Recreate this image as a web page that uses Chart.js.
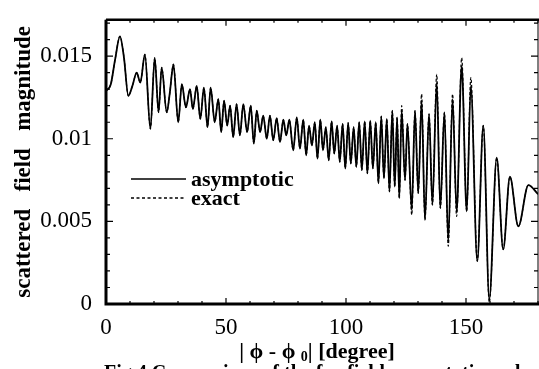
<!DOCTYPE html>
<html>
<head>
<meta charset="utf-8">
<script src="https://cdn.jsdelivr.net/npm/chart.js@4.4.1/dist/chart.umd.min.js"></script>
<style>
  html, body { margin: 0; padding: 0; background: #fff; }
  #wrap { width: 539px; height: 369px; position: relative; }
</style>
</head>
<body>
<div id="wrap"><canvas id="chart"></canvas></div>
<script>
// angle |phi - phi0| in degrees, at the peaks and dips
const degrees = [
  0, 2.0, 3.8, 5.8, 7.5, 9.3, 11.0, 12.8, 14.3, 16.2,
  18.5, 20.3, 21.9, 23.2, 25.3, 26.6, 28.1, 30.1, 31.6, 33.3,
  35.0, 36.2, 37.8, 39.3, 40.8, 42.3, 43.6, 45.3, 46.8, 48.0,
  49.2, 50.5, 51.7, 53.0, 54.4, 55.8, 57.2, 58.8, 60.3, 61.6,
  62.8, 64.2, 65.5, 67.0, 68.3, 69.7, 71.1, 72.5, 73.9, 75.1,
  76.4, 78.0, 79.5, 80.8, 82.2, 83.4, 84.6, 85.8, 87.0, 88.1,
  89.3, 90.4, 91.6, 92.8, 94.0, 95.1, 96.3, 97.4, 98.6, 99.7,
  100.9, 102.0, 103.2, 104.3, 105.5, 106.6, 107.8, 108.9, 110.1, 111.2,
  112.4, 113.5, 114.7, 115.8, 117.0, 118.1, 119.3, 120.3, 121.3, 122.2,
  123.2, 124.6, 125.6, 127.4, 128.75, 130.1, 131.5, 132.9, 134.6, 136.0,
  137.8, 139.3, 141.0, 142.6, 144.4, 146.1, 148.2, 150.3, 152.0, 154.7,
  157.2, 159.7, 162.8, 165.5, 168.3, 171.8, 176.0, 180
];

// asymptotic solution
const asymptotic = [
  0.0129, 0.0133, 0.0148, 0.0162, 0.0149, 0.0126, 0.0132, 0.0140, 0.0134, 0.0151,
  0.0106, 0.0149, 0.0116, 0.0143, 0.0116, 0.0128, 0.0145, 0.0110, 0.0133, 0.0119,
  0.0130, 0.0118, 0.0132, 0.0112, 0.0131, 0.0107, 0.0131, 0.0110, 0.0124, 0.0104,
  0.0123, 0.0108, 0.0120, 0.0101, 0.0121, 0.0102, 0.0121, 0.0104, 0.0120, 0.0097,
  0.0117, 0.0104, 0.0114, 0.0100, 0.0114, 0.0099, 0.01125, 0.0098, 0.01115, 0.0102,
  0.01115, 0.0093, 0.0113, 0.0094, 0.01115, 0.0090, 0.0108, 0.0096, 0.0110, 0.0088,
  0.01115, 0.0093, 0.0107, 0.0087, 0.01105, 0.0091, 0.0108, 0.0086, 0.0109, 0.0082,
  0.01096, 0.0085, 0.0107, 0.0083, 0.0110, 0.0081, 0.01105, 0.0079, 0.0111, 0.0082,
  0.0110, 0.0073, 0.01135, 0.0076, 0.0112, 0.0068, 0.0117, 0.0071, 0.0113, 0.0064,
  0.0117, 0.0075, 0.0109, 0.0057, 0.0117, 0.0067, 0.0123, 0.0051, 0.0115, 0.0060,
  0.0134, 0.0058, 0.0116, 0.0038, 0.0124, 0.0056, 0.0144, 0.0056, 0.0132, 0.0026,
  0.0108, 0.0003, 0.00885, 0.0033, 0.0077, 0.0047, 0.0072, 0.00665
];

// exact solution: same as asymptotic except at these points
const exactX = [123.2, 127.4, 131.5, 137.8, 142.6, 144.4, 146.1, 148.2, 152.0, 159.7];
const exactY = [0.0120, 0.0054, 0.0127, 0.0139, 0.0035, 0.0127, 0.0053, 0.0149, 0.0137, 0.0001];

const xTicks = [0, 50, 100, 150];
const yTicks = [0, 0.005, 0.01, 0.015];

const serif = '"Liberation Serif", "Times New Roman", serif';

const exact = degrees.map((d, i) => {
  const k = exactX.indexOf(d);
  return k >= 0 ? exactY[k] : asymptotic[i];
});

const framePlugin = {
  id: 'frame',
  afterDraw(chart) {
    const { ctx, chartArea: a, scales } = chart;
    const xs = scales.x, ys = scales.y;
    ctx.save();
    ctx.strokeStyle = '#000';
    ctx.fillStyle = '#000';

    // inward ticks
    ctx.lineWidth = 1.2;
    ctx.beginPath();
    for (let i = 0; i <= 17; i++) {
      const y = ys.getPixelForValue(i * 0.001);
      const len = i % 5 === 0 ? 7 : 4;
      ctx.moveTo(a.left, y); ctx.lineTo(a.left + len, y);
      ctx.moveTo(a.right, y); ctx.lineTo(a.right - len, y);
    }
    for (let d = 0; d <= 180; d += 10) {
      const x = xs.getPixelForValue(d);
      const len = d % 50 === 0 ? 6 : 3;
      ctx.moveTo(x, a.bottom); ctx.lineTo(x, a.bottom - len);
      ctx.moveTo(x, a.top); ctx.lineTo(x, a.top + len);
    }
    ctx.stroke();

    // frame
    ctx.lineWidth = 3;
    ctx.beginPath();
    ctx.moveTo(a.left, a.top); ctx.lineTo(a.left, a.bottom); ctx.lineTo(a.right + 1, a.bottom);
    ctx.stroke();
    ctx.lineWidth = 2.5;
    ctx.beginPath();
    ctx.moveTo(a.left, a.top); ctx.lineTo(a.right + 1, a.top);
    ctx.stroke();
    ctx.lineWidth = 1;
    ctx.beginPath();
    ctx.moveTo(a.right, a.top); ctx.lineTo(a.right, a.bottom);
    ctx.stroke();

    // legend
    ctx.lineWidth = 1.3;
    ctx.beginPath();
    ctx.moveTo(131, 179); ctx.lineTo(186, 179);
    ctx.stroke();
    ctx.setLineDash([3, 2.5]);
    ctx.beginPath();
    ctx.moveTo(131, 198); ctx.lineTo(186, 198);
    ctx.stroke();
    ctx.setLineDash([]);
    ctx.font = 'bold 22px ' + serif;
    ctx.textBaseline = 'alphabetic';
    ctx.textAlign = 'left';
    ctx.fillText('asymptotic', 191, 186);
    ctx.fillText('exact', 191, 205);

    // x axis title with subscript
    const t1 = '| \u03D5 - \u03D5 ';
    const sub = '0';
    const t2 = '| [degree]';
    ctx.font = 'bold 22px ' + serif;
    const w1 = ctx.measureText(t1).width;
    const w2 = ctx.measureText(t2).width;
    ctx.font = 'bold 14px ' + serif;
    const ws = ctx.measureText(sub).width;
    let x0 = 317 - (w1 + ws + w2) / 2;
    const base = 358;
    ctx.font = 'bold 22px ' + serif;
    ctx.fillText(t1, x0, base);
    ctx.font = 'bold 14px ' + serif;
    ctx.fillText(sub, x0 + w1, base + 3);
    ctx.font = 'bold 22px ' + serif;
    ctx.fillText(t2, x0 + w1 + ws, base);

    // caption, cut off by the bottom edge
    ctx.font = 'bold 20px ' + serif;
    ctx.textBaseline = 'top';
    ctx.fillText('Fig.4 Comparison of the far-field asymptotic and exact solutions', 104, 364);
    ctx.restore();
  }
};

new Chart(document.getElementById('chart'), {
  type: 'line',
  data: {
    labels: degrees,
    datasets: [
      {
        label: 'asymptotic',
        data: degrees.map((d, i) => ({ x: d, y: asymptotic[i] })),
        borderColor: '#000',
        borderWidth: 1.8,
        pointRadius: 0,
        cubicInterpolationMode: 'monotone',
        fill: false
      },
      {
        label: 'exact',
        data: degrees.map((d, i) => ({ x: d, y: exact[i] })),
        borderColor: '#000',
        borderWidth: 1.2,
        borderDash: [3, 2],
        pointRadius: 0,
        cubicInterpolationMode: 'monotone',
        fill: false
      }
    ]
  },
  options: {
    responsive: true,
    maintainAspectRatio: false,
    animation: false,
    layout: { padding: { top: 5, right: 1, bottom: 0, left: 0 } },
    plugins: {
      legend: { display: false },
      tooltip: { enabled: false }
    },
    scales: {
      x: {
        type: 'linear',
        min: 0,
        max: 180,
        grid: { display: false },
        border: { display: false },
        afterBuildTicks: (scale) => { scale.ticks = xTicks.map(v => ({ value: v })); },
        afterFit: (scale) => { scale.height = 65; },
        ticks: {
          color: '#000',
          padding: 2,
          maxRotation: 0,
          font: { family: serif, size: 23 },
          callback: (v) => String(v)
        }
      },
      y: {
        min: 0,
        max: 0.0172,
        grid: { display: false },
        border: { display: false },
        afterBuildTicks: (scale) => { scale.ticks = yTicks.map(v => ({ value: v })); },
        afterFit: (scale) => { scale.width = 106; },
        ticks: {
          color: '#000',
          padding: 6,
          font: { family: serif, size: 23 },
          callback: (v) => String(v)
        },
        title: {
          display: true,
          text: 'scattered   field   magnitude',
          color: '#000',
          padding: { top: 10, bottom: 0 },
          font: { family: serif, size: 23, weight: 'bold' }
        }
      }
    }
  },
  plugins: [framePlugin]
});
</script>
</body>
</html>
